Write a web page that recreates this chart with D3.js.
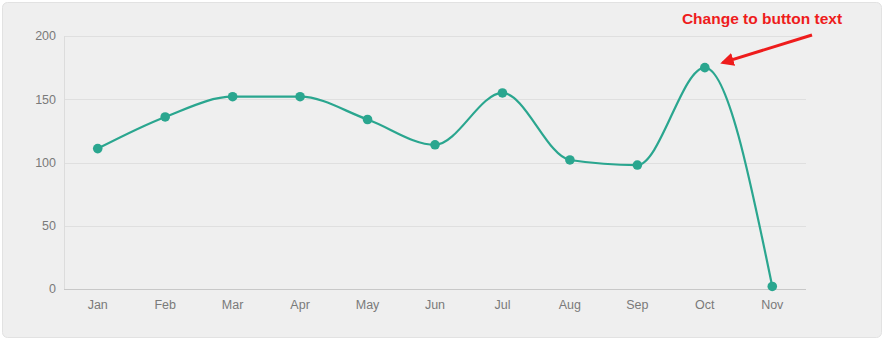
<!DOCTYPE html>
<html>
<head>
<meta charset="utf-8">
<script src="https://cdn.jsdelivr.net/npm/d3@7"></script>
<style>
  html, body { margin: 0; padding: 0; background: #ffffff; }
  svg { display: block; }
</style>
</head>
<body>
<svg id="chart" width="888" height="341"></svg>
<script>
// Monthly values
const months = ["Jan", "Feb", "Mar", "Apr", "May", "Jun", "Jul", "Aug", "Sep", "Oct", "Nov"];
const values = [111, 136, 152, 152, 134, 114, 155, 102, 98, 175, 2];
const yTicks = [0, 50, 100, 150, 200];
const noteText = "Change to button text";

const svg = d3.select("#chart");
const W = 888, H = 341;
const margin = { left: 64, right: 82, top: 36, bottom: 52 };

// panel background
svg.append("rect")
  .attr("x", 2.5).attr("y", 2.5)
  .attr("width", 879).attr("height", 335)
  .attr("rx", 5)
  .attr("fill", "#efefef")
  .attr("stroke", "#e2e2e2");

const x = d3.scaleBand()
  .domain(months)
  .range([margin.left, W - margin.right]);

const y = d3.scaleLinear()
  .domain([0, 200])
  .range([H - margin.bottom, margin.top]);

// horizontal grid lines
svg.append("g")
  .selectAll("line")
  .data(yTicks.filter(d => d > 0))
  .join("line")
  .attr("x1", margin.left).attr("x2", W - margin.right)
  .attr("y1", d => Math.round(y(d)) + 0.5).attr("y2", d => Math.round(y(d)) + 0.5)
  .attr("stroke", "#dfdfdf");

// left axis line
svg.append("line")
  .attr("x1", margin.left + 0.5).attr("x2", margin.left + 0.5)
  .attr("y1", y(200)).attr("y2", y(0))
  .attr("stroke", "#dcdcdc");

// baseline
svg.append("line")
  .attr("x1", margin.left).attr("x2", W - margin.right)
  .attr("y1", Math.round(y(0)) + 0.5).attr("y2", Math.round(y(0)) + 0.5)
  .attr("stroke", "#c8c8c8");

const font = "Helvetica, Arial, 'Liberation Sans', sans-serif";

// y tick labels
svg.append("g")
  .selectAll("text")
  .data(yTicks)
  .join("text")
  .attr("x", margin.left - 8)
  .attr("y", d => y(d))
  .attr("dy", "0.35em")
  .attr("text-anchor", "end")
  .attr("font-family", font)
  .attr("font-size", 12.5)
  .attr("fill", "#7a7a7a")
  .text(d => d);

// x tick labels
svg.append("g")
  .selectAll("text")
  .data(months)
  .join("text")
  .attr("x", d => x(d) + x.bandwidth() / 2)
  .attr("y", y(0) + 20)
  .attr("text-anchor", "middle")
  .attr("font-family", font)
  .attr("font-size", 12.5)
  .attr("fill", "#7a7a7a")
  .text(d => d);

const teal = "#2aa68f";

// smoothed line
const line = d3.line()
  .x((d, i) => x(months[i]) + x.bandwidth() / 2)
  .y(d => y(d))
  .curve(d3.curveMonotoneX);

svg.append("path")
  .datum(values)
  .attr("d", line)
  .attr("fill", "none")
  .attr("stroke", teal)
  .attr("stroke-width", 2.2);

// points
svg.append("g")
  .selectAll("circle")
  .data(values)
  .join("circle")
  .attr("cx", (d, i) => x(months[i]) + x.bandwidth() / 2)
  .attr("cy", d => y(d))
  .attr("r", 4.8)
  .attr("fill", teal);

// annotation
const octX = x("Oct") + x.bandwidth() / 2;
const octY = y(values[9]);

svg.append("text")
  .attr("x", 762)
  .attr("y", 24)
  .attr("text-anchor", "middle")
  .attr("font-family", font)
  .attr("font-size", 15.5)
  .attr("font-weight", "bold")
  .attr("fill", "#ee1c1c")
  .text(noteText);

svg.append("defs").append("marker")
  .attr("id", "head")
  .attr("viewBox", "0 0 10 10")
  .attr("refX", 8).attr("refY", 5)
  .attr("markerWidth", 4.5).attr("markerHeight", 4.5)
  .attr("orient", "auto")
  .append("path")
  .attr("d", "M0,0 L10,5 L0,10 Z")
  .attr("fill", "#ee1c1c");

svg.append("line")
  .attr("x1", 812).attr("y1", 35)
  .attr("x2", octX + 18).attr("y2", octY - 5)
  .attr("stroke", "#ee1c1c")
  .attr("stroke-width", 3)
  .attr("marker-end", "url(#head)");
</script>
</body>
</html>
